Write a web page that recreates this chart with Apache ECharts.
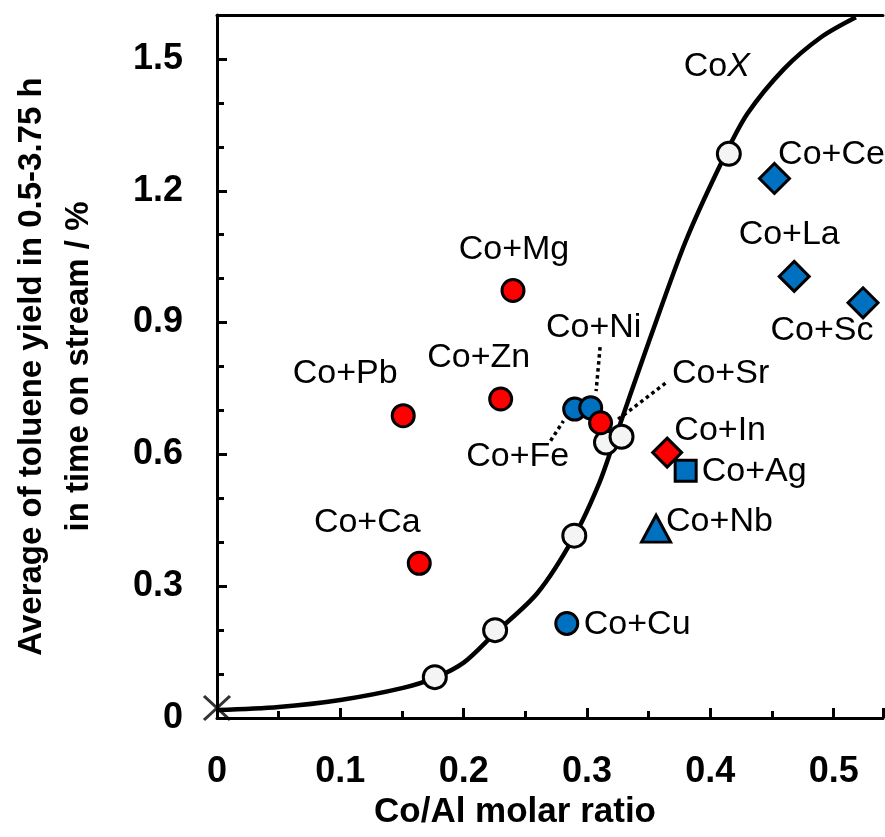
<!DOCTYPE html>
<html>
<head>
<meta charset="utf-8">
<script src="https://cdn.jsdelivr.net/npm/echarts@6/dist/echarts.min.js"></script>
<style>html,body{margin:0;padding:0;background:#fff}#c{width:885px;height:837px}</style>
</head>
<body>
<div id="c"></div>
<script>
// ---------- data ----------
const xTicks = [0, 0.1, 0.2, 0.3, 0.4, 0.5];
const yTicks = [0, 0.3, 0.6, 0.9, 1.2, 1.5];

// fitted CoX curve
const curveX = [0, 0.05, 0.10, 0.15, 0.177, 0.20, 0.225, 0.26, 0.29, 0.31, 0.322, 0.335, 0.35, 0.38, 0.41, 0.43, 0.46, 0.49, 0.518];
const curveY = [0.018, 0.025, 0.041, 0.068, 0.092, 0.126, 0.192, 0.285, 0.415, 0.535, 0.630, 0.735, 0.855, 1.085, 1.270, 1.375, 1.478, 1.550, 1.595];

// CoX samples (white circles)
const coxX = [0.1766, 0.2255, 0.2897, 0.3154, 0.3280, 0.4150];
const coxY = [0.093, 0.200, 0.415, 0.627, 0.640, 1.284];

// reference point at origin (cross)
const crossX = [0];
const crossY = [0.023];

// red circles
const redCircleNames = ['Co+Mg', 'Co+Pb', 'Co+Zn', 'Co+Ca', 'Co+Sr'];
const redCircleX = [0.240, 0.151, 0.230, 0.164, 0.311];
const redCircleY = [0.973, 0.688, 0.726, 0.352, 0.672];

// red diamond
const redDiamondNames = ['Co+In'];
const redDiamondX = [0.365];
const redDiamondY = [0.604];

// blue circles
const blueCircleNames = ['Co+Fe', 'Co+Ni', 'Co+Cu'];
const blueCircleX = [0.290, 0.303, 0.2836];
const blueCircleY = [0.703, 0.706, 0.215];

// blue square
const blueSquareNames = ['Co+Ag'];
const blueSquareX = [0.380];
const blueSquareY = [0.563];

// blue triangle
const blueTriangleNames = ['Co+Nb'];
const blueTriangleX = [0.356];
const blueTriangleY = [0.431];

// blue diamonds
const blueDiamondNames = ['Co+Ce', 'Co+La', 'Co+Sc'];
const blueDiamondX = [0.452, 0.468, 0.5238];
const blueDiamondY = [1.228, 1.005, 0.945];

// dotted leader lines [x1,y1,x2,y2]
const leaderNi = [0.3106, 0.844, 0.3074, 0.744];
const leaderSr = [0.3636, 0.762, 0.3234, 0.676];
const leaderFe = [0.2705, 0.631, 0.2809, 0.676];

// ---------- styling ----------
const FONT = "'Liberation Sans', Arial, sans-serif";
const labelOffsets = {
  'Co+Mg': [1, -41], 'Co+Pb': [-58, -42], 'Co+Zn': [-22, -41], 'Co+Ca': [-52, -41],
  'Co+Sr': [120, -49], 'Co+In': [53, -22], 'Co+Fe': [-57, 48], 'Co+Ni': [3, -80],
  'Co+Cu': [17, 1], 'Co+Ag': [16, 1], 'Co+Nb': [10, -7], 'Co+Ce': [57, -24],
  'Co+La': [-5, -42], 'Co+Sc': [-41, 28]
};
const labelAlign = { 'Co+Cu': 'left', 'Co+Ag': 'left', 'Co+Nb': 'left' };
const labelStyle = { fontFamily: FONT, fontSize: 34, color: '#000' };

function zip(xs, ys) { return xs.map((x, i) => [x, ys[i]]); }
function named(names, xs, ys) {
  return names.map((n, i) => ({
    name: n, value: [xs[i], ys[i]],
    label: { show: true, formatter: n, position: 'inside', offset: labelOffsets[n], align: labelAlign[n] || 'center', verticalAlign: 'middle', ...labelStyle }
  }));
}
function scatter(name, data, symbol, size, color, z) {
  return {
    type: 'scatter', name, data, symbol, symbolSize: size, z, clip: false,
    itemStyle: { color, borderColor: '#000', borderWidth: 3, opacity: 1 },
    emphasis: { disabled: true }, silent: true
  };
}
function leader(seg) {
  return {
    type: 'line', data: [[seg[0], seg[1]], [seg[2], seg[3]]], symbol: 'none', z: 3,
    lineStyle: { color: '#000', width: 3.5, type: [3.5, 3.5] }, silent: true
  };
}

const coxData = zip(coxX, coxY).map((v, i) => {
  const d = { value: v };
  if (i === coxX.length - 1) {
    d.label = {
      show: true, position: 'inside', offset: [-12, -87], align: 'center', verticalAlign: 'middle',
      formatter: '{n|Co}{i|X}',
      rich: { n: { ...labelStyle }, i: { ...labelStyle, fontStyle: 'italic' } }
    };
  }
  return d;
});

const chart = echarts.init(document.getElementById('c'), null, { renderer: 'canvas' });
chart.setOption({
  animation: false,
  backgroundColor: '#fff',
  grid: { left: 210, right: 2, top: 15, bottom: 119, containLabel: false },
  xAxis: [{
    type: 'value', min: 0, max: 0.54, interval: 0.1,
    name: 'Co/Al molar ratio', nameLocation: 'middle', nameGap: 76,
    nameTextStyle: { fontFamily: FONT, fontSize: 35, fontWeight: 'bold', color: '#000', padding: [0, 70, 0, 0] },
    axisLine: { show: true, onZero: false, lineStyle: { color: '#000', width: 3 } },
    axisTick: { show: true, inside: true, length: 10, lineStyle: { color: '#000', width: 3 } },
    minorTick: { show: true, splitNumber: 2, length: 7, lineStyle: { color: '#000', width: 3 } },
    splitLine: { show: false },
    axisLabel: {
      margin: 36, fontFamily: FONT, fontSize: 36, fontWeight: 'bold', color: '#000', showMaxLabel: false,
      formatter: v => { const t = xTicks.find(k => Math.abs(k - v) < 1e-6); return t === undefined ? '' : String(t); }
    }
  }, {
    type: 'value', min: 0, max: 0.54, position: 'top',
    axisLine: { show: true, onZero: false, lineStyle: { color: '#000', width: 3 } },
    axisTick: { show: false }, axisLabel: { show: false }, splitLine: { show: false }
  }],
  yAxis: {
    type: 'value', min: 0, max: 1.6, interval: 0.3,
    name: 'Average of toluene yield in 0.5-3.75 h\nin time on stream / %', nameLocation: 'middle', nameGap: 115, nameRotate: 90,
    nameTextStyle: { fontFamily: FONT, fontSize: 33, fontWeight: 'bold', color: '#000', lineHeight: 47 },
    axisLine: { show: true, onZero: false, lineStyle: { color: '#000', width: 3 } },
    axisTick: { show: true, inside: true, length: 10, lineStyle: { color: '#000', width: 3 } },
    minorTick: { show: true, splitNumber: 3, length: 7, lineStyle: { color: '#000', width: 3 } },
    splitLine: { show: false },
    axisLabel: {
      margin: 34, fontFamily: FONT, fontSize: 36, fontWeight: 'bold', color: '#000', showMaxLabel: false,
      formatter: v => { const t = yTicks.find(k => Math.abs(k - v) < 1e-6); return t === undefined ? '' : (t === 0 ? '0' : t.toFixed(1)); }
    }
  },
  series: [
    {
      type: 'line', data: zip(curveX, curveY), smooth: 0.3, symbol: 'none', z: 2, clip: false,
      lineStyle: { color: '#000', width: 4.5 }, silent: true
    },
    leader(leaderNi), leader(leaderSr), leader(leaderFe),
    {
      type: 'scatter', data: zip(crossX, crossY), symbol: 'path://M0,0L10,9M10,0L0,9', symbolSize: [26, 24], symbolKeepAspect: false, z: 4, clip: false,
      itemStyle: { color: 'none', borderColor: '#000', borderWidth: 3 }, silent: true
    },
    scatter('CoX', coxData, 'circle', 23, '#f4f4f4', 5),
    scatter('blueCircle', named(blueCircleNames, blueCircleX, blueCircleY), 'circle', 22, '#0070C0', 6),
    scatter('redCircle', named(redCircleNames, redCircleX, redCircleY), 'circle', 22, '#FF0000', 7),
    scatter('redDiamond', named(redDiamondNames, redDiamondX, redDiamondY), 'diamond', 29, '#FF0000', 7),
    scatter('blueSquare', named(blueSquareNames, blueSquareX, blueSquareY), 'rect', 21, '#0070C0', 8),
    scatter('blueTriangle', named(blueTriangleNames, blueTriangleX, blueTriangleY), 'triangle', [29, 27], '#0070C0', 8),
    scatter('blueDiamond', named(blueDiamondNames, blueDiamondX, blueDiamondY), 'diamond', 30, '#0070C0', 8)
  ]
});
</script>
</body>
</html>
